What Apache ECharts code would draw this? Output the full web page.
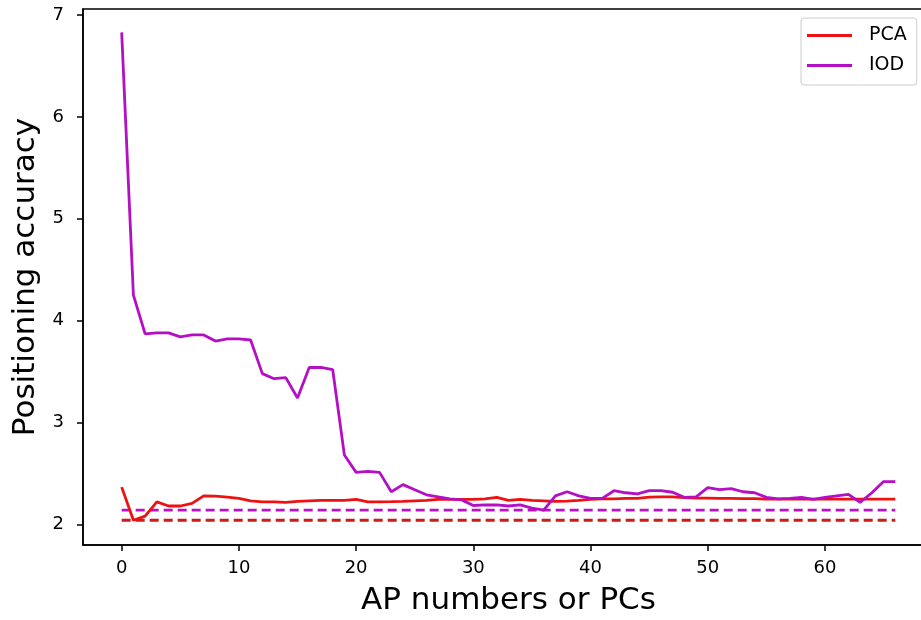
<!DOCTYPE html>
<html>
<head>
<meta charset="utf-8">
<script src="https://cdn.jsdelivr.net/npm/echarts@6/dist/echarts.min.js"></script>
<style>
html,body{margin:0;padding:0;background:#fff;}
#chart{width:921px;height:620px;}
</style>
</head>
<body>
<div id="chart"></div>
<script>
// x positions (AP numbers or PCs)
var xValues = [];
for (var k = 0; k <= 66; k++) xValues.push(k);

var pcaValues = [
  2.365, 2.04, 2.08, 2.22, 2.18, 2.18, 2.205, 2.28, 2.277, 2.267,
  2.255, 2.23, 2.22, 2.22, 2.215, 2.225, 2.23, 2.235, 2.235, 2.235,
  2.245, 2.22, 2.22, 2.222, 2.225, 2.23, 2.235, 2.245, 2.245, 2.245,
  2.245, 2.25, 2.265, 2.235, 2.245, 2.235, 2.23, 2.225, 2.228, 2.235,
  2.245, 2.25, 2.25, 2.255, 2.255, 2.267, 2.27, 2.27, 2.262, 2.258,
  2.258, 2.255, 2.255, 2.252, 2.252, 2.248, 2.248, 2.248, 2.248, 2.248,
  2.248, 2.248, 2.248, 2.248, 2.248, 2.248, 2.248
];

var iodValues = [
  6.83, 4.25, 3.87, 3.88, 3.88, 3.84, 3.86, 3.86, 3.80, 3.82,
  3.82, 3.81, 3.48, 3.43, 3.44, 3.24, 3.54, 3.54, 3.52, 2.68,
  2.51, 2.52, 2.51, 2.32, 2.39, 2.34, 2.29, 2.27, 2.25, 2.24,
  2.185, 2.19, 2.19, 2.18, 2.19, 2.16, 2.14, 2.28, 2.32, 2.28,
  2.255, 2.255, 2.33, 2.31, 2.30, 2.33, 2.33, 2.315, 2.265, 2.27,
  2.36, 2.34, 2.35, 2.32, 2.31, 2.265, 2.25, 2.255, 2.265, 2.245,
  2.265, 2.28, 2.295, 2.215, 2.31, 2.42, 2.42
];

// best (minimum) reference levels, drawn dashed across x = 0..66
var pcaBest = 2.04;
var iodBest = 2.14;
var dashedSpan = [0, 66];

var xTicks = [0, 10, 20, 30, 40, 50, 60];
var yTicks = [2, 3, 4, 5, 6, 7];

function pairs(xs, ys) {
  return xs.map(function (x, i) { return [x, ys[i]]; });
}

var chart = echarts.init(document.getElementById('chart'), null, {renderer: 'canvas'});
var font = 'DejaVu Sans';

chart.setOption({
  backgroundColor: '#ffffff',
  animation: false,
  grid: {
    left: 83, width: 851, top: 9, bottom: 75,
    containLabel: false, outerBoundsMode: 'none',
    show: true, borderColor: '#000', borderWidth: 1.5, backgroundColor: 'transparent'
  },
  legend: {
    orient: 'vertical',
    left: 801, top: 18,
    padding: [8, 10, 10, 6],
    icon: 'rect',
    itemWidth: 45, itemHeight: 3, itemGap: 11,
    borderColor: '#cccccc', borderWidth: 1, borderRadius: 3,
    backgroundColor: 'rgba(255,255,255,0.8)',
    textStyle: {fontFamily: font, fontSize: 19, color: '#000', padding: [0, 0, 0, 12], lineHeight: 19},
    data: ['PCA', 'IOD']
  },
  xAxis: {
    type: 'value', min: -3.3, max: 69.3,
    name: 'AP numbers or PCs', nameLocation: 'middle', nameGap: 40,
    nameTextStyle: {fontFamily: font, fontSize: 31, color: '#000'},
    axisLine: {show: true, onZero: false, lineStyle: {color: '#000', width: 1.5}},
    axisTick: {show: true, length: 6, customValues: xTicks, lineStyle: {color: '#000', width: 1.5}},
    axisLabel: {customValues: xTicks, margin: 14, fontFamily: font, fontSize: 18, color: '#000'},
    splitLine: {show: false}
  },
  yAxis: {
    type: 'value', min: 1.797, max: 7.06,
    name: 'Positioning accuracy', nameLocation: 'middle', nameGap: 40, nameRotate: 90,
    nameTextStyle: {fontFamily: font, fontSize: 31, color: '#000'},
    axisLine: {show: true, onZero: false, lineStyle: {color: '#000', width: 1.5}},
    axisTick: {show: true, length: 6, customValues: yTicks, lineStyle: {color: '#000', width: 1.5}},
    axisLabel: {customValues: yTicks, margin: 19, fontFamily: font, fontSize: 18, color: '#000'},
    splitLine: {show: false}
  },
  series: [
    {
      name: 'PCA', type: 'line', symbol: 'none',
      data: pairs(xValues, pcaValues),
      lineStyle: {color: '#ee1111', width: 2.8}, itemStyle: {color: '#ee1111'}, z: 3
    },
    {
      name: 'IOD', type: 'line', symbol: 'none',
      data: pairs(xValues, iodValues),
      lineStyle: {color: '#b40fc4', width: 2.8}, itemStyle: {color: '#b40fc4'}, z: 4
    },
    {
      name: 'PCA best', type: 'line', symbol: 'none',
      data: [[dashedSpan[0], pcaBest], [dashedSpan[1], pcaBest]],
      lineStyle: {color: '#cf1a1a', width: 2.8, type: [9, 5]}, z: 2
    },
    {
      name: 'IOD best', type: 'line', symbol: 'none',
      data: [[dashedSpan[0], iodBest], [dashedSpan[1], iodBest]],
      lineStyle: {color: '#bb11cc', width: 2.8, type: [9, 5]}, z: 2
    }
  ]
});
</script>
</body>
</html>
